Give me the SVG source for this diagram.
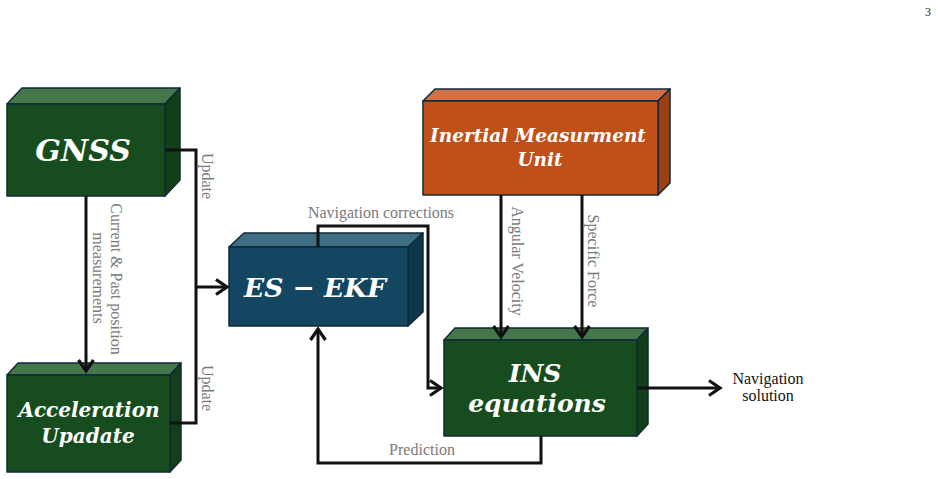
<svg xmlns="http://www.w3.org/2000/svg" width="938" height="479" viewBox="0 0 938 479">
<defs>
<style>
.box{stroke:#0f2a38;stroke-width:1.5;stroke-linejoin:round}
.gf{fill:#174d1e}.gt{fill:#44774b}.gr{fill:#123f18}
.bf{fill:#134660}.bt{fill:#3f6d82}.br{fill:#0e374c}
.of{fill:#c05018}.ot{fill:#d07044}.or{fill:#9c3f12}
.lbl{font-family:"DejaVu Serif","Liberation Serif",serif;font-weight:bold;font-style:italic;fill:#fff;text-anchor:middle}
.conn{fill:none;stroke:#111;stroke-width:3;stroke-linejoin:miter}
.gray{font-family:"Liberation Serif",serif;font-size:16px;fill:#7a7a7a}
.blk{font-family:"Liberation Serif",serif;font-size:16px;fill:#111;text-anchor:middle}
</style>
<marker id="arr" viewBox="-14 -10 18 20" markerWidth="18" markerHeight="20" refX="0" refY="0" orient="auto" markerUnits="userSpaceOnUse">
<path d="M-11,-7.5 L0,0 L-11,7.5" fill="none" stroke="#111" stroke-width="3.2"/>
</marker>
</defs>
<rect width="938" height="479" fill="#fff"/>
<text x="928" y="16" font-family="Liberation Serif,serif" font-size="12" fill="#222" text-anchor="middle">3</text>

<g id="gnss">
<polygon class="box gt" points="7,104 22,88 180,88 165,104"/>
<polygon class="box gr" points="165,104 180,88 180,180 165,196"/>
<rect class="box gf" x="7" y="104" width="158" height="92"/>
<text class="lbl" x="83" y="161" font-size="30">GNSS</text>
</g>

<g id="acceleration">
<polygon class="box gt" points="7,375 18,363 181,363 170,375"/>
<polygon class="box gr" points="170,375 181,363 181,460 170,472"/>
<rect class="box gf" x="7" y="375" width="163" height="97"/>
<text class="lbl" x="89" y="417" font-size="20">Acceleration</text>
<text class="lbl" x="88" y="443" font-size="20">Upadate</text>
</g>

<g id="eskf">
<polygon class="box bt" points="229,247 244,233 423,233 408,247"/>
<polygon class="box br" points="408,247 423,233 423,312 408,326"/>
<rect class="box bf" x="229" y="247" width="179" height="79"/>
<text class="lbl" x="315" y="297" font-size="26.5">ES − EKF</text>
</g>

<g id="imu">
<polygon class="box ot" points="423,101 435,89 670,89 658,101"/>
<polygon class="box or" points="658,101 670,89 670,183 658,195"/>
<rect class="box of" x="423" y="101" width="235" height="94"/>
<text class="lbl" x="538" y="142" font-size="18.5">Inertial Measurment</text>
<text class="lbl" x="540" y="166" font-size="18.5">Unit</text>
</g>

<g id="ins">
<polygon class="box gt" points="444,340 455,328 648,328 637,340"/>
<polygon class="box gr" points="637,340 648,328 648,424 637,436"/>
<rect class="box gf" x="444" y="340" width="193" height="96"/>
<text class="lbl" x="535" y="382" font-size="25">INS</text>
<text class="lbl" x="537" y="412" font-size="25">equations</text>
</g>

<g id="connectors">
<path class="conn" d="M86,196 V371" marker-end="url(#arr)"/>
<path class="conn" d="M165,150 H196 V423 H170"/>
<path class="conn" d="M196,287 H227" marker-end="url(#arr)"/>
<path class="conn" d="M318,247 V226 H428 V388 H441" marker-end="url(#arr)"/>
<path class="conn" d="M501,195 V337" marker-end="url(#arr)"/>
<path class="conn" d="M582,195 V337" marker-end="url(#arr)"/>
<path class="conn" d="M637,388 H720" marker-end="url(#arr)"/>
<path class="conn" d="M541,436 V463 H318 V329" marker-end="url(#arr)"/>
<text class="gray" transform="translate(208,176) rotate(90)" text-anchor="middle" dy="0.35em">Update</text>
<text class="gray" transform="translate(208,388) rotate(90)" text-anchor="middle" dy="0.35em">Update</text>
<text class="gray" transform="translate(117,279) rotate(90)" text-anchor="middle" dy="0.35em">Current &amp; Past position</text>
<text class="gray" transform="translate(99,278) rotate(90)" text-anchor="middle" dy="0.35em">measurements</text>
<text class="gray" transform="translate(518,261) rotate(90)" text-anchor="middle" dy="0.35em">Angular Velocity</text>
<text class="gray" transform="translate(594,261) rotate(90)" text-anchor="middle" dy="0.35em">Specific Force</text>
<text class="gray" x="381" y="218" text-anchor="middle">Navigation corrections</text>
<text class="gray" x="422" y="455" text-anchor="middle">Prediction</text>
<text class="blk" x="768" y="384">Navigation</text>
<text class="blk" x="768" y="401">solution</text>
</g>
</svg>
